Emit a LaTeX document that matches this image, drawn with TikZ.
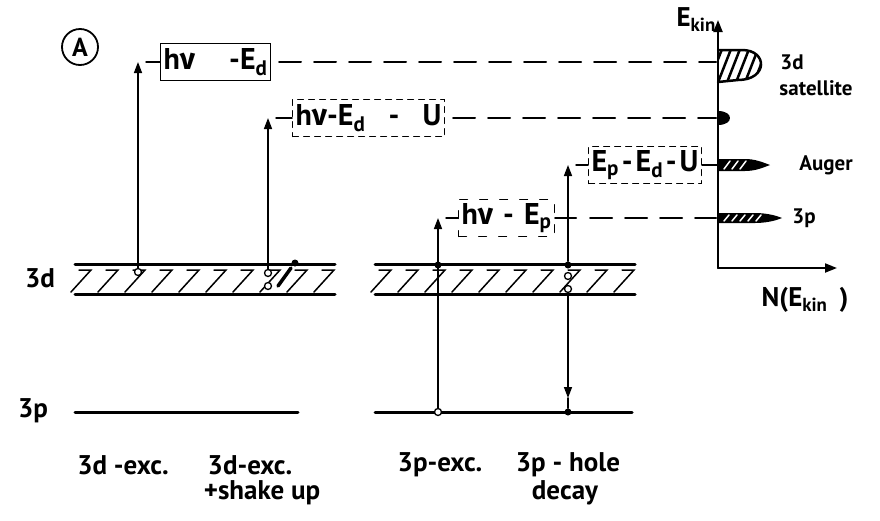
\documentclass[tikz,border=0pt]{standalone}
\usepackage{fontspec}
\setmainfont{PT Sans}
\newfontfamily\grk{Fira Sans}
\newcommand{\nuv}{{\grk\bfseries ν}}
\usetikzlibrary{arrows.meta}
\begin{document}
\begin{tikzpicture}[x=1pt,y=-1pt,line cap=round,
  big/.style={font=\fontsize{27}{30}\selectfont\bfseries, inner sep=0pt},
  small/.style={font=\fontsize{21}{23}\selectfont\bfseries, inner sep=0pt},
  boxlbl/.style={font=\fontsize{30}{32}\selectfont\bfseries, inner sep=3pt, minimum height=37pt, line width=1pt},
  level/.style={line width=3pt},
  arr/.style={line width=1.5pt,-{Triangle[length=11pt,width=8pt]}},
  tick/.style={line width=1.5pt},
  dashline/.style={line width=2pt, dash pattern=on 22pt off 13pt},
  hole/.style={circle, draw, fill=white, line width=1.3pt, inner sep=0pt, minimum size=7pt},
  elec/.style={circle, fill=black, inner sep=0pt, minimum size=7pt},
  axis/.style={line width=2pt,-{Triangle[length=12pt,width=9pt]}}]
\useasboundingbox (0,0) rectangle (880,520);

% label A
\node[draw, circle, line width=1.8pt, minimum size=36pt, inner sep=0pt, font=\fontsize{26}{28}\selectfont\bfseries] (A) at (80,47) {A};

% level labels
\node[big] (l3d) at (40,278) {3d};
\node[big] (l3p) at (33,411) {3p};

% 3d bands
\foreach \xa/\xb in {75/335, 375/635} {
  \draw[level] (\xa,264) -- (\xb,264);
  \draw[level] (\xa,294) -- (\xb,294);
  \foreach \x in {0,27,...,250} {
    \pgfmathsetmacro{\xx}{\xa+\x}
    \draw[line width=1.5pt] (\xx+4,270) -- (\xx+16,270) -- (\xx-4,292);
  }
}
% 3p lines
\draw[level] (75,412) -- (298,412);
\draw[level] (375,412) -- (632,412);

% states on the levels
\node[hole] (s1) at (138,272) {};
\node[hole] (s2) at (268,273) {};
\node[hole] (s2b) at (268,286) {};
\node[elec] (s2e) at (295,263) {};
\draw[line width=3.5pt] (278,286) -- (291,268);
\node[hole] (s3) at (438,412) {};
\node[elec] (s3b) at (438,265) {};
\node[elec] (s4) at (568,265) {};
\node[hole] (s4b) at (568,276) {};
\node[hole] (s4c) at (568,289) {};
\node[elec] (s4d) at (568,412) {};

% tips
\coordinate (t1) at (138,62);
\coordinate (t2) at (268,118);
\coordinate (t3) at (438,218);
\coordinate (t4) at (568,165);
\coordinate (d4) at (568,398);

% excitation arrows
\draw[arr] (s1) -- (t1);
\draw[arr] (s2) -- (t2);
\draw[arr] (s3) -- (t3);
\draw[arr] (s4) -- (t4);
\draw[arr] (s4c) -- (d4);
\draw[line width=1.5pt] (d4) -- (s4d);

% boxes
\node[boxlbl, draw, anchor=west] (b1) at (160,62) {\makebox[104pt][s]{h\nuv\hfill-E\textsubscript{d}}};
\node[boxlbl, draw, dashed, dash pattern=on 6pt off 5pt, anchor=west] (b2) at (292,118) {\makebox[146pt][s]{h\nuv-E\textsubscript{d}\hfill-\hfill U}};
\node[boxlbl, draw, dashed, dash pattern=on 8pt off 12pt, anchor=west] (b3) at (458,218) {\makebox[90pt][s]{h\nuv\hfill-\hfill E\textsubscript{p}}};
\node[boxlbl, draw, dashed, dash pattern=on 6pt off 5pt, anchor=west] (b4) at (588,165) {\makebox[107pt][s]{E\textsubscript{p}\hfill-\hfill E\textsubscript{d}\hfill-\hfill U}};

\draw[tick] ([xshift=8pt]t1) -- (b1.west);
\draw[tick] ([xshift=8pt]t2) -- (b2.west);
\draw[tick] ([xshift=8pt]t3) -- (b3.west);
\draw[tick] ([xshift=8pt]t4) -- (b4.west);

% axes
\coordinate (O) at (718,268);
\coordinate (Ytop) at (718,20);
\coordinate (Xend) at (837,268);
\draw[axis] (O) -- (Ytop);
\draw[axis] (O) -- (Xend);
\node[big, anchor=south east] (ylab) at (716,32) {E\textsubscript{kin}};
\node[big] (xlab) at (805,300) {N(E\textsubscript{kin}\hspace{12pt})};

% energy lines to spectrum
\coordinate (e1) at (716,62);
\coordinate (e2) at (716,118);
\coordinate (e4) at (718,165);
\coordinate (e3) at (716,218);
\draw[dashline] ([xshift=8pt]b1.east) -- (e1);
\draw[dashline] ([xshift=8pt]b2.east) -- (e2);
\draw[line width=2pt] (b4.east) -- (e4);
\draw[line width=2pt] (b3.east) -- (576,218);
\draw[dashline] (590,218) -- (e3);

% peaks
\begin{scope}
  \clip (718,50) -- (742,50) .. controls (768,50) and (768,80) .. (738,80) -- (718,82) -- cycle;
  \foreach \i in {0,...,7} \draw[line width=2.5pt] (706+\i*9,90) -- (724+\i*9,44);
\end{scope}
\draw[line width=2.5pt] (718,50) -- (742,50) .. controls (768,50) and (768,80) .. (738,80) -- (718,82);
\fill (718,111) .. controls (734,111) and (734,125) .. (718,125) -- cycle;
% Auger
\fill (718,159) -- (745,159) .. controls (755,159) and (762,162) .. (770,165) .. controls (762,168) and (755,171) .. (745,171) -- (718,171) -- cycle;
\foreach \i in {0,1,2} \draw[white, line width=1.5pt] (724+\i*8,169) -- (730+\i*8,161);
% 3p
\fill (718,213) -- (755,213) .. controls (765,213) and (775,215) .. (782,218) .. controls (775,221) and (765,223) .. (755,223) -- (718,223) -- cycle;
\foreach \i in {0,...,4} \draw[white, line width=1.5pt] (724+\i*8,221) -- (729+\i*8,215);

% peak labels
\node[small] (p1a) at (792,62) {3d};
\node[small] (p1b) at (816,88) {satellite};
\node[small] (p2) at (826,165) {Auger};
\node[small] (p3) at (804,218) {3p};

% bottom labels
\node[big] (c1) at (123,465) {3d -exc.};
\node[big] (c2) at (250,465) {3d-exc.};
\node[big] (c2b) at (262,493) {+shake up};
\node[big] (c3) at (440,465) {3p-exc.};
\node[big] (c4) at (568,465) {3p - hole};
\node[big] (c4b) at (565,493) {decay};
\end{tikzpicture}
\end{document}
